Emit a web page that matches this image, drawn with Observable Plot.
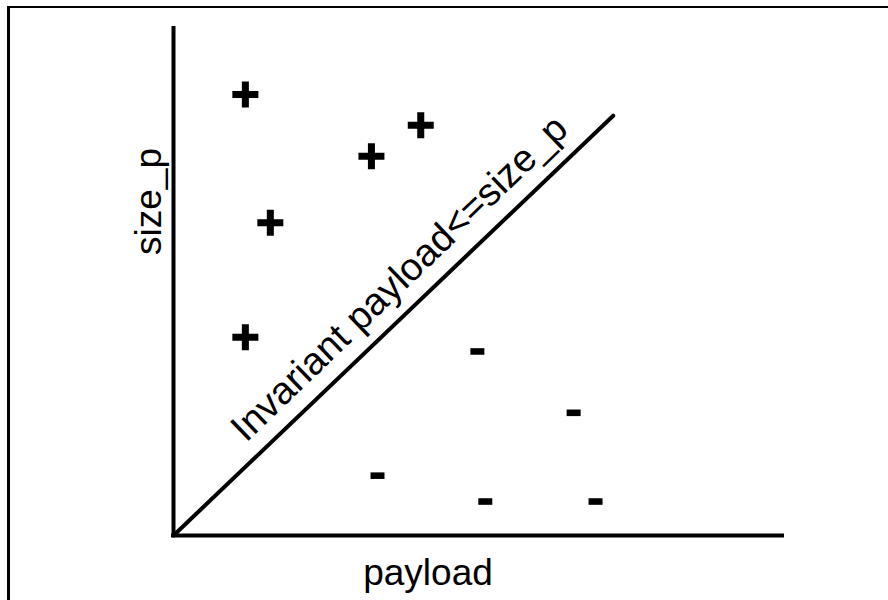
<!DOCTYPE html>
<html>
<head>
<meta charset="utf-8">
<script src="https://cdn.jsdelivr.net/npm/d3@7"></script>
<script src="https://cdn.jsdelivr.net/npm/@observablehq/plot@0.6"></script>
<style>
  html, body { margin: 0; padding: 0; background: #fff; overflow: hidden; }
  #wrap { position: relative; width: 888px; height: 600px; }
  #border { position: absolute; left: 7px; top: 6px; width: 900px; height: 700px;
            border-left: 3px solid #000; border-top: 2px solid #000; pointer-events: none; }
  #chart { position: absolute; left: 0; top: 0; }
</style>
</head>
<body>
<div id="wrap"><div id="chart"></div><div id="border"></div></div>
<script>
// Positive examples (+): payload, size_p
const plusPayload = [11.8, 15.9, 32.5, 40.6, 11.8];
const plusSize    = [87.0, 61.7, 74.8, 80.9, 39.1];
// Negative examples (-)
const minusPayload = [49.9, 65.7, 33.5, 51.2, 69.3];
const minusSize    = [36.3, 24.2, 11.8, 6.7, 6.7];
// Invariant line payload <= size_p
const diagPayload = [0, 72.2];
const diagSize    = [0, 82.8];
const xLabel = "payload";
const yLabel = "size_p";
const diagLabel = "Invariant payload<=size_p";

const plusData = plusPayload.map((x, i) => ({x, y: plusSize[i]}));
const minusData = minusPayload.map((x, i) => ({x, y: minusSize[i]}));
const diagData = diagPayload.map((x, i) => ({x, y: diagSize[i]}));

const plusSymbol = {
  draw(ctx, size) {
    const r = Math.sqrt(size / Math.PI), t = r * 0.27;
    ctx.moveTo(-r, -t); ctx.lineTo(-t, -t); ctx.lineTo(-t, -r); ctx.lineTo(t, -r);
    ctx.lineTo(t, -t); ctx.lineTo(r, -t); ctx.lineTo(r, t); ctx.lineTo(t, t);
    ctx.lineTo(t, r); ctx.lineTo(-t, r); ctx.lineTo(-t, t); ctx.lineTo(-r, t);
    ctx.closePath();
  }
};
const minusSymbol = {
  draw(ctx, size) {
    const r = Math.sqrt(size / Math.PI), t = r * 0.47;
    ctx.rect(-r, -t, 2 * r, 2 * t);
  }
};

const font = "'Liberation Sans', Arial, Helvetica, sans-serif";

const chart = Plot.plot({
  width: 888,
  height: 600,
  marginLeft: 173,
  marginRight: 106,
  marginTop: 28,
  marginBottom: 65,
  x: {domain: [0, 100], axis: null},
  y: {domain: [0, 100], axis: null},
  style: {fontFamily: font, background: "white", overflow: "visible"},
  marks: [
    Plot.ruleX([0], {y1: 0, y2: 100, stroke: "black", strokeWidth: 4, strokeLinecap: "square"}),
    Plot.ruleY([0], {x1: 0, x2: 100, stroke: "black", strokeWidth: 4, strokeLinecap: "square"}),
    Plot.line(diagData, {x: "x", y: "y", stroke: "black", strokeWidth: 4, strokeLinecap: "round"}),
    Plot.dot(plusData, {x: "x", y: "y", r: 13, symbol: plusSymbol, fill: "black", stroke: "none"}),
    Plot.dot(minusData, {x: "x", y: "y", r: 7, symbol: minusSymbol, fill: "black", stroke: "none"}),
    Plot.text([xLabel], {text: d => d, frameAnchor: "bottom", dx: -50, dy: 38, fontSize: 37, fill: "black", textAnchor: "middle", lineAnchor: "middle"}),
    Plot.text([yLabel], {text: d => d, frameAnchor: "top-left", dx: -24, dy: 173, rotate: -90, fontSize: 37, fill: "black", textAnchor: "middle", lineAnchor: "middle"}),
    Plot.text([diagLabel], {text: d => d, x: () => 37.1, y: () => 50.7, rotate: -43.9, fontSize: 38.5, fill: "black", textAnchor: "middle", lineAnchor: "middle"})
  ]
});
document.getElementById("chart").appendChild(chart);
</script>
</body>
</html>
